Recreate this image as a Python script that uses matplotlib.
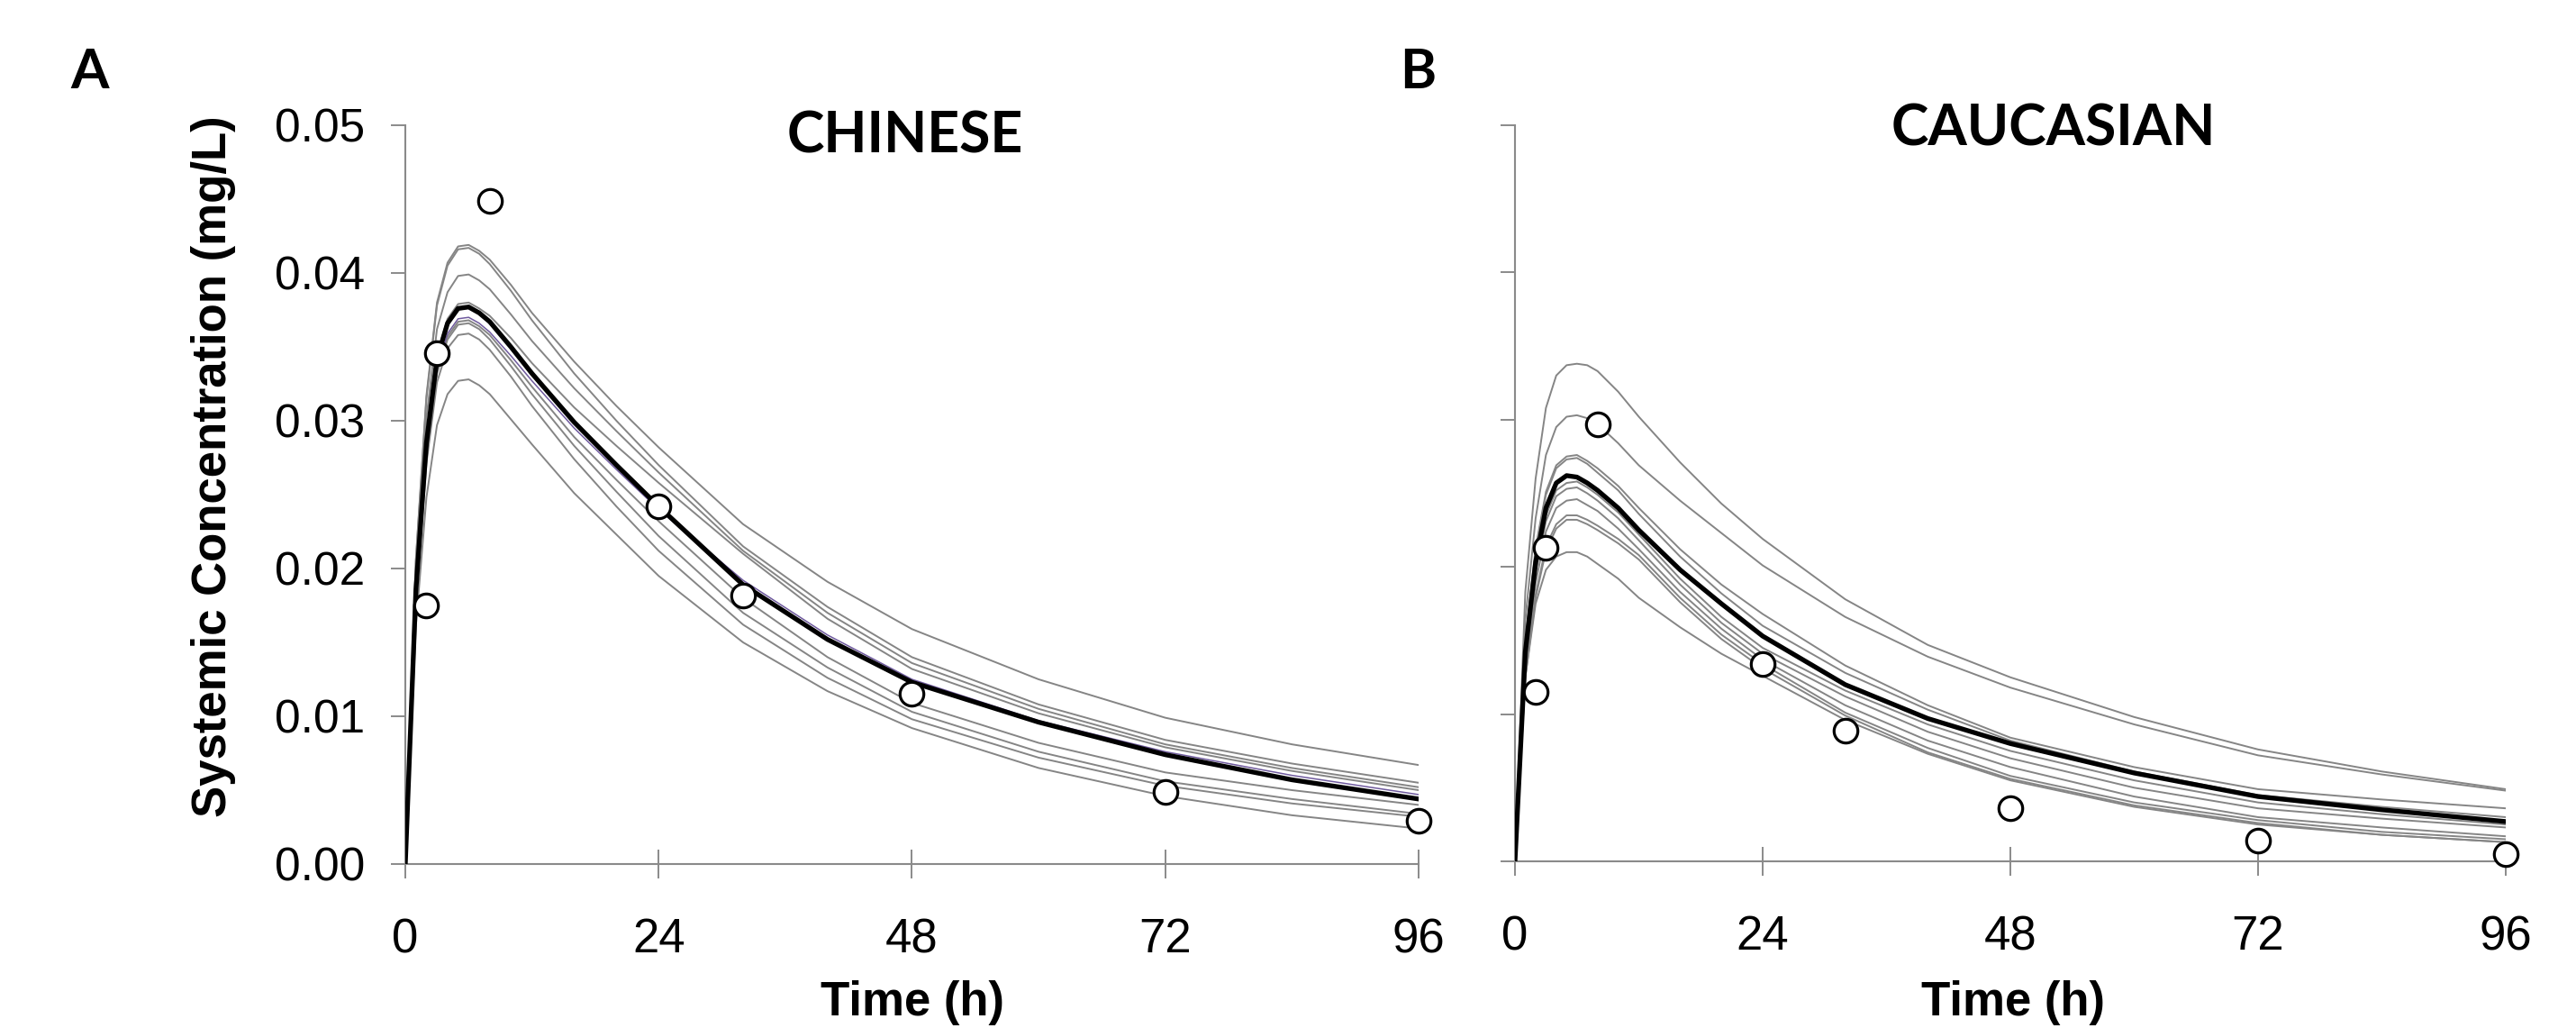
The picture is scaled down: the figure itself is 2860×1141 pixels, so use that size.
import matplotlib
matplotlib.use('Agg')
import matplotlib.pyplot as plt
from matplotlib.ticker import FormatStrFormatter

plt.rcParams['font.family'] = ['Liberation Sans', 'DejaVu Sans']

# simulation time grid (h)
sim_time = [0, 1, 2, 3, 4, 5, 6, 7, 8, 10, 12, 16, 20, 24, 32, 40, 48, 60, 72, 84, 96]

# observed data (h, mg/L)
obs_time = [2, 3, 8, 24, 32, 48, 72, 96]
chinese_obs = [0.0175, 0.0346, 0.0449, 0.0242, 0.0182, 0.0115, 0.0049, 0.0029]
caucasian_obs = [0.0115, 0.0213, 0.0297, 0.0134, 0.0089, 0.0036, 0.0014, 0.0005]

# CHINESE: population mean and virtual trials
chinese_mean = [0, .0185, .0285, .0342, .0366, .0376, .0377, .0373, .0367, .0350, .0332,
                .0299, .0270, .0242, .0189, .0152, .0123, .0096, .0074, .0057, .0044]
chinese_purple = [0, .0182, .0280, .0336, .0359, .0369, .0370, .0366, .0360, .0344, .0327,
                  .0295, .0267, .0240, .0192, .0155, .0125, .0097, .0076, .0060, .0047]
chinese_trials = [
    [0, .0206, .0317, .0380, .0407, .0418, .0419, .0415, .0409, .0392, .0373,
     .0340, .0310, .0282, .0230, .0191, .0159, .0125, .0099, .0081, .0067],
    [0, .0205, .0315, .0378, .0405, .0416, .0417, .0413, .0406, .0388, .0368,
     .0332, .0300, .0270, .0215, .0174, .0140, .0108, .0084, .0068, .0055],
    [0, .0196, .0302, .0362, .0387, .0398, .0399, .0395, .0389, .0372, .0354,
     .0322, .0293, .0265, .0212, .0170, .0136, .0105, .0081, .0065, .0052],
    [0, .0187, .0287, .0345, .0369, .0379, .0380, .0376, .0371, .0356, .0339,
     .0309, .0283, .0258, .0210, .0166, .0132, .0102, .0079, .0063, .0050],
    [0, .0181, .0278, .0334, .0357, .0367, .0368, .0364, .0358, .0341, .0323,
     .0289, .0260, .0232, .0180, .0140, .0109, .0082, .0062, .0050, .0040],
    [0, .0180, .0277, .0332, .0355, .0365, .0366, .0362, .0355, .0337, .0318,
     .0283, .0252, .0222, .0170, .0133, .0103, .0076, .0056, .0044, .0034],
    [0, .0176, .0271, .0326, .0349, .0358, .0359, .0355, .0348, .0330, .0310,
     .0274, .0242, .0212, .0162, .0126, .0098, .0072, .0053, .0041, .0032],
    [0, .0161, .0248, .0297, .0318, .0327, .0328, .0324, .0318, .0301, .0284,
     .0251, .0223, .0195, .0150, .0117, .0092, .0065, .0046, .0033, .0024],
]

# CAUCASIAN: population mean and virtual trials
caucasian_mean = [0, .0142, .0203, .0240, .0257, .0262, .0261, .0257, .0252, .0240, .0225,
                  .0198, .0175, .0153, .0120, .0097, .0080, .0060, .0044, .0035, .0027]
caucasian_trials = [
    [0, .0183, .0260, .0308, .0330, .0337, .0338, .0337, .0333, .0319, .0302,
     .0271, .0243, .0219, .0178, .0147, .0125, .0098, .0076, .0061, .0049],
    [0, .0164, .0233, .0276, .0295, .0302, .0303, .0301, .0297, .0284, .0269,
     .0245, .0223, .0201, .0166, .0139, .0118, .0093, .0072, .0059, .0048],
    [0, .0149, .0213, .0251, .0269, .0275, .0276, .0272, .0267, .0255, .0240,
     .0212, .0188, .0168, .0133, .0106, .0084, .0064, .0049, .0042, .0036],
    [0, .0148, .0211, .0249, .0267, .0273, .0274, .0270, .0264, .0252, .0236,
     .0207, .0182, .0160, .0128, .0103, .0082, .0061, .0045, .0037, .0030],
    [0, .0139, .0199, .0235, .0252, .0257, .0258, .0254, .0249, .0237, .0222,
     .0192, .0166, .0145, .0116, .0093, .0075, .0055, .0040, .0032, .0025],
    [0, .0137, .0196, .0231, .0248, .0253, .0254, .0250, .0245, .0233, .0218,
     .0188, .0162, .0141, .0112, .0088, .0070, .0050, .0036, .0029, .0023],
    [0, .0133, .0189, .0224, .0240, .0245, .0246, .0242, .0238, .0226, .0212,
     .0183, .0158, .0137, .0106, .0082, .0064, .0044, .0030, .0023, .0017],
    [0, .0127, .0181, .0214, .0229, .0235, .0235, .0232, .0228, .0219, .0208,
     .0179, .0154, .0134, .0101, .0077, .0058, .0040, .0028, .0020, .0015],
    [0, .0125, .0179, .0211, .0226, .0232, .0232, .0229, .0225, .0216, .0205,
     .0176, .0151, .0131, .0099, .0074, .0056, .0038, .0026, .0018, .0013],
    [0, .0125, .0175, .0198, .0207, .0210, .0210, .0207, .0202, .0192, .0179,
     .0159, .0141, .0126, .0096, .0073, .0055, .0037, .0025, .0018, .0013],
]

x_ticks = [0, 24, 48, 72, 96]
y_ticks = [0.0, 0.01, 0.02, 0.03, 0.04, 0.05]

W, H = 2860, 1141
AXIS_GREY = '#8a8a8a'
TITLE_FONT = ['Lato', 'Open Sans', 'DejaVu Sans']


def draw_panel(ax, trials, mean, obs, extra=None, show_ylabels=True):
    for c in trials:
        ax.plot(sim_time, c, color='#858585', lw=1.4, zorder=2)
    if extra is not None:
        ax.plot(sim_time, extra, color='#6f5a9e', lw=1.1, zorder=3)
    ax.plot(sim_time, mean, color='black', lw=3.8, zorder=4, solid_joinstyle='round')
    ax.plot(obs_time, obs, 'o', ms=19, mfc='white', mec='black', mew=2.3,
            zorder=5, clip_on=False)

    ax.set_xlim(0, 96)
    ax.set_ylim(0, 0.05)
    ax.set_xticks(x_ticks)
    ax.set_yticks(y_ticks)
    ax.yaxis.set_major_formatter(FormatStrFormatter('%.2f'))
    for side in ['top', 'right']:
        ax.spines[side].set_visible(False)
    for side in ['left', 'bottom']:
        ax.spines[side].set_color(AXIS_GREY)
        ax.spines[side].set_linewidth(1.5)
    ax.tick_params(axis='y', direction='out', length=11.5, width=1.4, color=AXIS_GREY,
                   labelsize=37, pad=21, labelleft=show_ylabels)
    ax.tick_params(axis='x', direction='inout', length=23, width=1.4, color=AXIS_GREY,
                   labelsize=38, pad=31)


fig = plt.figure(figsize=(W / 100, H / 100), dpi=100)

ax_l = fig.add_axes([450 / W, 1 - 959 / H, 1125 / W, 820 / H])
draw_panel(ax_l, chinese_trials, chinese_mean, chinese_obs, extra=chinese_purple)

ax_r = fig.add_axes([1682 / W, 1 - 956 / H, 1100 / W, 817 / H])
draw_panel(ax_r, caucasian_trials, caucasian_mean, caucasian_obs, show_ylabels=False)

# titles and panel letters
fig.text(1005 / W, 1 - 170 / H, 'CHINESE', ha='center', va='baseline',
         fontsize=45, fontweight='bold', family=TITLE_FONT)
fig.text(2280 / W, 1 - 161 / H, 'CAUCASIAN', ha='center', va='baseline',
         fontsize=45, fontweight='bold', family=TITLE_FONT)
fig.text(100 / W, 1 - 98 / H, 'A', ha='center', va='baseline',
         fontsize=44, fontweight='bold', family=TITLE_FONT)
fig.text(1574 / W, 1 - 98 / H, 'B', ha='center', va='baseline',
         fontsize=44, fontweight='bold', family=TITLE_FONT)

# axis labels
fig.text(237 / W, 1 - 518 / H, 'Systemic Concentration (mg/L)', rotation=90,
         ha='center', va='center', fontsize=38, fontweight='bold')
fig.text(1013 / W, 1 - 1127 / H, 'Time (h)', ha='center', va='baseline',
         fontsize=38, fontweight='bold')
fig.text(2235 / W, 1 - 1127 / H, 'Time (h)', ha='center', va='baseline',
         fontsize=38, fontweight='bold')

fig.savefig('out.png', dpi=100, facecolor='white')
